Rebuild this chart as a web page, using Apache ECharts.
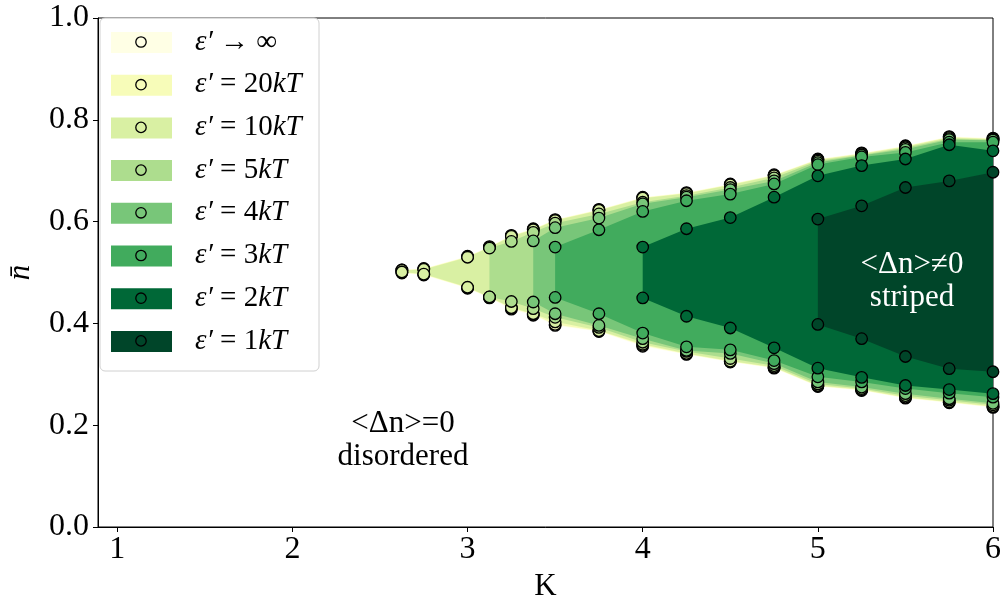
<!DOCTYPE html>
<html>
<head>
<meta charset="utf-8">
<script src="https://cdn.jsdelivr.net/npm/echarts@6.0.0/dist/echarts.min.js"></script>
<style>
  html, body { margin: 0; padding: 0; background: #fff; }
  #chart { width: 1005px; height: 601px; }
</style>
</head>
<body>
<div id="chart"></div>
<script>
// boundary points of the striped phase, one block per epsilon'
const kLong = [2.625, 2.75, 3.0, 3.125, 3.25, 3.375, 3.5, 3.75, 4.0, 4.25, 4.5, 4.75, 5.0, 5.25, 5.5, 5.75, 6.0];
const upperInf = [0.505, 0.508, 0.532, 0.551, 0.573, 0.586, 0.604, 0.624, 0.648, 0.657, 0.674, 0.692, 0.723, 0.735, 0.749, 0.767, 0.764];
const lowerInf = [0.499, 0.495, 0.469, 0.450, 0.428, 0.416, 0.396, 0.384, 0.355, 0.339, 0.324, 0.312, 0.276, 0.268, 0.253, 0.244, 0.235];
const upper20 = [0.505, 0.507, 0.531, 0.550, 0.572, 0.585, 0.603, 0.623, 0.647, 0.656, 0.673, 0.691, 0.722, 0.734, 0.748, 0.766, 0.763];
const lower20 = [0.500, 0.496, 0.470, 0.451, 0.430, 0.418, 0.398, 0.385, 0.357, 0.340, 0.325, 0.313, 0.277, 0.269, 0.254, 0.245, 0.236];
const upper10 = [0.504, 0.506, 0.530, 0.549, 0.571, 0.584, 0.602, 0.622, 0.646, 0.655, 0.672, 0.690, 0.721, 0.733, 0.747, 0.765, 0.762];
const lower10 = [0.501, 0.497, 0.471, 0.452, 0.431, 0.419, 0.403, 0.386, 0.359, 0.341, 0.326, 0.314, 0.278, 0.270, 0.255, 0.246, 0.237];

const k5 = [3.125, 3.25, 3.375, 3.5, 3.75, 4.0, 4.25, 4.5, 4.75, 5.0, 5.25, 5.5, 5.75, 6.0];
const upper5 = [0.548, 0.561, 0.579, 0.597, 0.615, 0.638, 0.651, 0.667, 0.686, 0.719, 0.731, 0.745, 0.763, 0.761];
const lower5 = [0.452, 0.443, 0.429, 0.412, 0.392, 0.363, 0.345, 0.331, 0.317, 0.281, 0.272, 0.258, 0.249, 0.240];

const k4 = [3.375, 3.5, 3.75, 4.0, 4.25, 4.5, 4.75, 5.0, 5.25, 5.5, 5.75, 6.0];
const upper4 = [0.562, 0.588, 0.607, 0.635, 0.648, 0.663, 0.680, 0.716, 0.730, 0.742, 0.761, 0.760];
const lower4 = [0.442, 0.419, 0.396, 0.370, 0.347, 0.341, 0.321, 0.285, 0.275, 0.262, 0.252, 0.243];

const k3 = [3.5, 3.75, 4.0, 4.25, 4.5, 4.75, 5.0, 5.25, 5.5, 5.75, 6.0];
const upper3 = [0.550, 0.584, 0.620, 0.641, 0.654, 0.674, 0.712, 0.727, 0.736, 0.756, 0.756];
const lower3 = [0.451, 0.419, 0.381, 0.354, 0.348, 0.327, 0.295, 0.285, 0.272, 0.263, 0.255];

const k2 = [4.0, 4.25, 4.5, 4.75, 5.0, 5.25, 5.5, 5.75, 6.0];
const upper2 = [0.550, 0.586, 0.608, 0.648, 0.690, 0.710, 0.723, 0.751, 0.739];
const lower2 = [0.450, 0.414, 0.391, 0.352, 0.312, 0.294, 0.278, 0.270, 0.262];

const k1 = [5.0, 5.25, 5.5, 5.75, 6.0];
const upper1 = [0.605, 0.631, 0.667, 0.680, 0.697];
const lower1 = [0.398, 0.370, 0.335, 0.311, 0.305];

const epsNames = ['\u221e', '20', '10', '5', '4', '3', '2', '1'];
const colors = ['#ffffe5', '#f7fcb9', '#d9f0a3', '#addd8e', '#78c679', '#41ab5d', '#006837', '#004529'];
const xTicks = [1, 2, 3, 4, 5, 6];

const groups = [
  [kLong, upperInf, lowerInf],
  [kLong, upper20, lower20],
  [kLong, upper10, lower10],
  [k5, upper5, lower5],
  [k4, upper4, lower4],
  [k3, upper3, lower3],
  [k2, upper2, lower2],
  [k1, upper1, lower1]
];

const serif = 'Liberation Serif';

function bandSeries(k, up, lo, color) {
  return {
    type: 'custom',
    clip: true,
    silent: true,
    z: 2,
    data: [[k[0], up[0]]],
    renderItem: function (params, api) {
      const pts = [];
      for (let i = 0; i < k.length; i++) pts.push(api.coord([k[i], up[i]]));
      for (let i = k.length - 1; i >= 0; i--) pts.push(api.coord([k[i], lo[i]]));
      return { type: 'polygon', shape: { points: pts }, style: { fill: color } };
    }
  };
}

function pointSeries(k, up, lo, color) {
  const data = k.map((x, i) => [x, up[i]]).concat(k.map((x, i) => [x, lo[i]]));
  return {
    type: 'scatter',
    clip: true,
    silent: true,
    z: 3,
    symbol: 'circle',
    symbolSize: 11.5,
    itemStyle: { color: color, borderColor: '#000', borderWidth: 1.3, opacity: 1 },
    data: data
  };
}

const series = [];
groups.forEach((g, i) => series.push(bandSeries(g[0], g[1], g[2], colors[i])));
groups.forEach((g, i) => series.push(pointSeries(g[0], g[1], g[2], colors[i])));

// legend drawn by hand: patch + marker + math label
const legend = [{
  type: 'rect',
  shape: { x: 100, y: 18, width: 219, height: 353, r: 5 },
  style: { fill: 'rgba(255,255,255,0.85)', stroke: '#d0d0d0', lineWidth: 1 },
  z: 10
}];
epsNames.forEach((name, i) => {
  const cy = 42 + i * 42.7;
  legend.push({
    type: 'rect', z: 11,
    shape: { x: 111, y: cy - 10, width: 61, height: 21 },
    style: { fill: colors[i] }
  });
  legend.push({
    type: 'circle', z: 12,
    shape: { cx: 141, cy: cy, r: 5.2 },
    style: { fill: colors[i], stroke: '#000', lineWidth: 1.3 }
  });
  const txt = i === 0 ? '{e|\u03b5\u2032}{n| \u2192 \u221e}' : '{e|\u03b5\u2032}{n| = ' + name + '}{e|kT}';
  legend.push({
    type: 'text', z: 12,
    x: 195, y: cy,
    style: {
      text: txt,
      verticalAlign: 'middle',
      fill: '#000',
      rich: {
        e: { fontFamily: serif, fontStyle: 'italic', fontSize: 29, fill: '#000' },
        n: { fontFamily: serif, fontSize: 29, fill: '#000' }
      }
    }
  });
});

const notes = [
  { type: 'text', z: 9, x: 403, y: 440, style: { text: '<\u0394n>=0\ndisordered', fontFamily: serif, fontSize: 31, lineHeight: 33, fill: '#000', align: 'center', verticalAlign: 'middle' } },
  { type: 'text', z: 9, x: 912, y: 281, style: { text: '<\u0394n>\u22600\nstriped', fontFamily: serif, fontSize: 31, lineHeight: 33, fill: '#fff', align: 'center', verticalAlign: 'middle' } }
];

const chart = echarts.init(document.getElementById('chart'));
const option = {
  animation: false,
  backgroundColor: '#fff',
  grid: {
    left: 98, right: 12, top: 18, bottom: 74,
    outerBoundsMode: 'none',
    show: true, borderColor: '#000', borderWidth: 1, backgroundColor: 'transparent'
  },
  xAxis: {
    type: 'value',
    min: 0.89,
    max: 6,
    name: 'K',
    nameLocation: 'middle',
    nameGap: 40,
    nameTextStyle: { fontFamily: serif, fontSize: 31, color: '#000' },
    splitLine: { show: false },
    axisLine: { show: true, onZero: false, lineStyle: { color: '#000' } },
    axisTick: { show: true, length: 5, customValues: xTicks, lineStyle: { color: '#000' } },
    axisLabel: { customValues: xTicks, fontFamily: serif, fontSize: 32, color: '#000', margin: 7 }
  },
  yAxis: {
    type: 'value',
    min: 0,
    max: 1,
    interval: 0.2,
    name: 'n\u0304',
    nameLocation: 'middle',
    nameGap: 62,
    nameRotate: 90,
    nameTextStyle: { fontFamily: serif, fontStyle: 'italic', fontSize: 31, color: '#000' },
    splitLine: { show: false },
    axisLine: { show: true, onZero: false, lineStyle: { color: '#000' } },
    axisTick: { show: true, length: 5, lineStyle: { color: '#000' } },
    axisLabel: { fontFamily: serif, fontSize: 32, color: '#000', margin: 9, formatter: v => v.toFixed(1) }
  },
  graphic: legend.concat(notes),
  series: series
};
chart.setOption(option);
</script>
</body>
</html>
